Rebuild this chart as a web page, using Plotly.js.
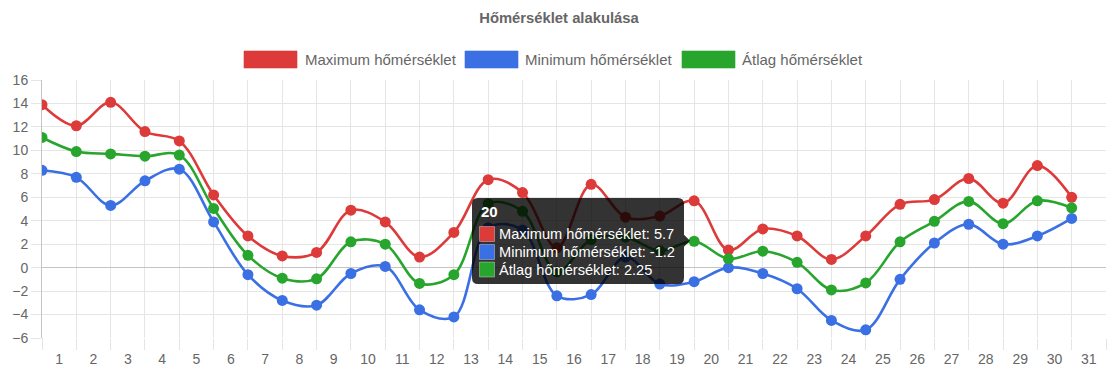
<!DOCTYPE html>
<html>
<head>
<meta charset="utf-8">
<script src="https://cdn.plot.ly/plotly-3.0.1.min.js"></script>
<style>
  html, body { margin: 0; padding: 0; background: #fff; }
  #chart { width: 1118px; height: 372px; }
</style>
</head>
<body>
<div id="chart"></div>
<script>
// ---- Data ----
const labels = ['1','2','3','4','5','6','7','8','9','10','11','12','13','14','15','16','17','18','19','20','21','22','23','24','25','26','27','28','29','30','31'];
const maxTemp = [13.9, 12.1, 14.1, 11.6, 10.8, 6.2, 2.7, 1.0, 1.3, 4.9, 3.9, 0.9, 3.0, 7.5, 6.4, 1.7, 7.1, 4.3, 4.4, 5.7, 1.5, 3.3, 2.7, 0.7, 2.7, 5.4, 5.8, 7.6, 5.5, 8.7, 6.0];
const minTemp = [8.3, 7.7, 5.3, 7.4, 8.4, 3.9, -0.6, -2.8, -3.2, -0.5, 0.1, -3.6, -4.2, 3.4, 3.2, -2.4, -2.3, 0.9, -1.4, -1.2, 0.0, -0.5, -1.8, -4.5, -5.3, -1.0, 2.1, 3.7, 2.0, 2.7, 4.2];
const avgTemp = [11.1, 9.9, 9.7, 9.5, 9.6, 5.05, 1.05, -0.9, -0.95, 2.2, 2.0, -1.35, -0.6, 5.45, 4.8, -0.35, 2.4, 2.6, 1.45, 2.25, 0.75, 1.4, 0.45, -1.9, -1.3, 2.2, 3.95, 5.65, 3.75, 5.7, 5.1];
const seriesNames = ['Maximum hőmérséklet', 'Minimum hőmérséklet', 'Átlag hőmérséklet'];
const chartTitle = 'Hőmérséklet alakulása';
const activeIndex = 19; // hovered point shown in the tooltip

// ---- Style ----
const colors = ['rgb(221,58,58)', 'rgb(58,112,228)', 'rgb(40,165,45)'];
const FONT = 'Liberation Sans, Arial, Helvetica, sans-serif';
const TXT = '#666666';
const GRID = '#e5e5e5';

const W = 1118, H = 372;
const M = { l: 42, r: 12, t: 80, b: 34 };
const plotW = W - M.l - M.r, plotH = H - M.t - M.b;
const px = x => (x - M.l) / plotW;
const py = y => (H - M.b - y) / plotH;

const xIdx = labels.map((_, i) => i);
const series = [maxTemp, minTemp, avgTemp];

const traces = series.map((vals, k) => ({
  type: 'scatter',
  mode: 'lines+markers',
  x: xIdx,
  y: vals,
  name: seriesNames[k],
  line: { color: colors[k], width: 2.6, shape: 'spline', smoothing: 1 },
  marker: { color: colors[k], size: 11 },
  hoverinfo: 'skip',
  showlegend: false
}));

const shapes = [];
const annotations = [];

// Custom legend (boxes + text)
const legendItems = [
  { box: 244, text: 303 },
  { box: 465, text: 523 },
  { box: 682, text: 740 }
];
legendItems.forEach((it, k) => {
  shapes.push({
    type: 'rect', xref: 'paper', yref: 'paper',
    x0: px(it.box), x1: px(it.box + 53), y0: py(68), y1: py(51),
    fillcolor: colors[k], line: { color: colors[k].replace('rgb', 'rgba').replace(')', ',0.6)'), width: 1 }
  });
  annotations.push({
    xref: 'paper', yref: 'paper', x: px(it.text), y: py(59.5),
    xanchor: 'left', yanchor: 'middle', showarrow: false,
    text: seriesNames[k], font: { family: FONT, size: 15, color: TXT }
  });
});

// Tooltip box
const L = 472, R = 684, T = 198, B = 284, r = 6;
const tipX = 690, tipY = 240.7, cH = 6;
const P = (x, y) => px(x).toFixed(5) + ',' + py(y).toFixed(5);
const path = 'M' + P(L + r, T) + ' L' + P(R - r, T) + ' Q' + P(R, T) + ' ' + P(R, T + r) +
  ' L' + P(R, tipY - cH) + ' L' + P(tipX, tipY) + ' L' + P(R, tipY + cH) +
  ' L' + P(R, B - r) + ' Q' + P(R, B) + ' ' + P(R - r, B) +
  ' L' + P(L + r, B) + ' Q' + P(L, B) + ' ' + P(L, B - r) +
  ' L' + P(L, T + r) + ' Q' + P(L, T) + ' ' + P(L + r, T) + ' Z';
shapes.push({ type: 'path', xref: 'paper', yref: 'paper', path: path,
  fillcolor: 'rgba(0,0,0,0.8)', line: { width: 0 }, layer: 'above' });

annotations.push({
  xref: 'paper', yref: 'paper', x: px(479), y: py(211.7),
  xanchor: 'left', yanchor: 'middle', showarrow: false,
  text: '<b>' + labels[activeIndex] + '</b>', font: { family: FONT, size: 15, color: '#ffffff' }
});
const rowY = [234, 252, 269.5];
series.forEach((vals, k) => {
  shapes.push({
    type: 'rect', xref: 'paper', yref: 'paper', layer: 'above',
    x0: px(479.5), x1: px(494.5), y0: py(rowY[k] + 7.5), y1: py(rowY[k] - 7.5),
    fillcolor: colors[k], line: { color: 'rgba(255,255,255,0.35)', width: 1 }
  });
  annotations.push({
    xref: 'paper', yref: 'paper', x: px(496.5), y: py(rowY[k]),
    xanchor: 'left', yanchor: 'middle', showarrow: false,
    text: seriesNames[k] + ': ' + vals[activeIndex], font: { family: FONT, size: 14.6, color: '#ffffff' }
  });
});

// y-axis line extension into tick area
shapes.push({ type: 'line', xref: 'x', yref: 'paper', x0: 0, x1: 0, y0: 0, y1: -11 / plotH,
  line: { color: '#c4c4c4', width: 1 }, layer: 'below' });

const layout = {
  width: W, height: H,
  margin: M,
  paper_bgcolor: '#ffffff', plot_bgcolor: '#ffffff',
  font: { family: FONT, color: TXT },
  title: {
    text: '<b>' + chartTitle + '</b>',
    xref: 'container', x: 0.5, xanchor: 'center',
    yref: 'container', y: 1 - 18 / H, yanchor: 'middle',
    font: { family: FONT, size: 14.8, color: TXT }
  },
  showlegend: false,
  xaxis: {
    range: [0, labels.length],
    tickmode: 'array',
    tickvals: xIdx.map(i => i + 0.5),
    ticktext: labels,
    ticks: 'outside', ticklen: 8, tickcolor: 'rgba(0,0,0,0)',
    showgrid: false, zeroline: false, showline: false,
    tickfont: { family: FONT, size: 14, color: TXT },
    minor: {
      tickmode: 'array',
      tickvals: labels.map((_, i) => i).concat([labels.length]),
      showgrid: true, gridcolor: GRID, gridwidth: 1,
      ticks: 'outside', ticklen: 11, tickcolor: GRID, tickwidth: 1
    },
    fixedrange: true
  },
  yaxis: {
    range: [-6, 16],
    tickmode: 'linear', tick0: -6, dtick: 2,
    showgrid: true, gridcolor: GRID, gridwidth: 1,
    ticks: 'outside', ticklen: 10, tickcolor: GRID,
    showline: true, linecolor: '#c4c4c4', linewidth: 1,
    zeroline: true, zerolinecolor: '#c4c4c4', zerolinewidth: 1,
    tickfont: { family: FONT, size: 14, color: TXT },
    fixedrange: true
  },
  shapes: shapes,
  annotations: annotations,
  hovermode: false
};

Plotly.newPlot('chart', traces, layout, { displayModeBar: false, staticPlot: true });
</script>
</body>
</html>
